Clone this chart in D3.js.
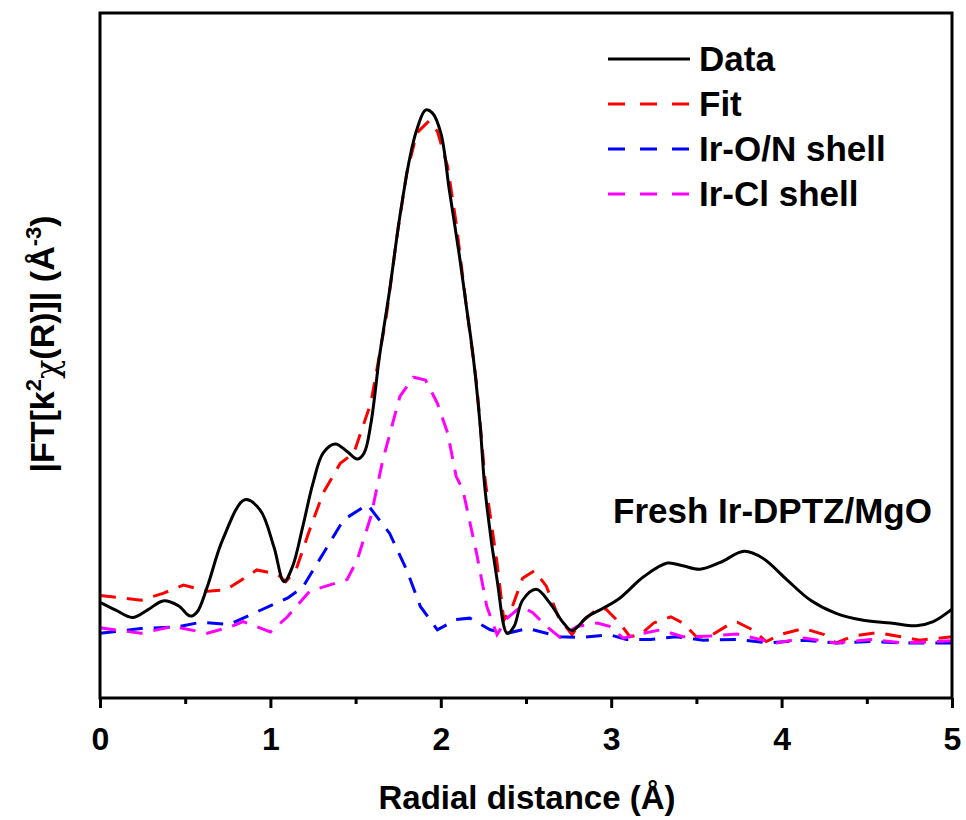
<!DOCTYPE html>
<html>
<head>
<meta charset="utf-8">
<script src="https://cdn.jsdelivr.net/npm/d3@7"></script>
<style>
body { margin: 0; background: #fff; }
text { font-family: "Liberation Sans", Arial, sans-serif; font-weight: bold; fill: #000; }
</style>
</head>
<body>
<div id="chart-area"></div>
<script>
// EXAFS |FT| – Fresh Ir-DPTZ/MgO

const MARGIN = { LEFT: 100, RIGHT: 14, TOP: 13, BOTTOM: 122 }
const WIDTH = 966 - MARGIN.LEFT - MARGIN.RIGHT
const HEIGHT = 820 - MARGIN.TOP - MARGIN.BOTTOM

// DATA (R in Å, magnitude in arbitrary units)
const dataR = [0, 0.09, 0.19, 0.28, 0.37, 0.46, 0.53, 0.57, 0.63, 0.72, 0.85, 0.94, 1.02, 1.08, 1.13, 1.19, 1.25, 1.31, 1.38, 1.45, 1.51, 1.55, 1.59, 1.64, 1.70, 1.76, 1.82, 1.86, 1.91, 1.95, 2.00, 2.05, 2.11, 2.15, 2.19, 2.23, 2.26, 2.33, 2.39, 2.43, 2.48, 2.56, 2.64, 2.72, 2.77, 2.86, 2.95, 3.05, 3.19, 3.33, 3.42, 3.52, 3.64, 3.78, 3.89, 4.03, 4.17, 4.32, 4.48, 4.64, 4.79, 4.89, 5.00]
const dataMag = [1.39, 1.28, 1.17, 1.28, 1.41, 1.34, 1.19, 1.25, 1.62, 2.30, 2.88, 2.73, 2.20, 1.69, 1.91, 2.49, 3.12, 3.56, 3.69, 3.58, 3.47, 3.56, 3.99, 4.96, 5.93, 7.00, 7.87, 8.26, 8.54, 8.50, 8.21, 7.38, 6.41, 5.69, 4.96, 3.99, 3.02, 1.72, 0.94, 1.04, 1.42, 1.58, 1.38, 1.09, 0.98, 1.18, 1.30, 1.45, 1.76, 1.96, 1.92, 1.87, 1.97, 2.13, 2.03, 1.72, 1.42, 1.23, 1.13, 1.09, 1.05, 1.11, 1.29]

const fitR = [0, 0.24, 0.37, 0.49, 0.63, 0.74, 0.92, 1.04, 1.09, 1.15, 1.23, 1.31, 1.41, 1.49, 1.59, 1.68, 1.74, 1.80, 1.86, 1.93, 1.98, 2.04, 2.09, 2.15, 2.21, 2.26, 2.33, 2.37, 2.42, 2.48, 2.55, 2.62, 2.69, 2.77, 2.82, 2.92, 2.97, 3.05, 3.11, 3.17, 3.25, 3.35, 3.42, 3.50, 3.58, 3.70, 3.74, 3.83, 3.91, 3.99, 4.13, 4.25, 4.32, 4.42, 4.56, 4.70, 4.81, 5.00]
const fitMag = [1.49, 1.42, 1.52, 1.64, 1.55, 1.57, 1.86, 1.80, 1.69, 1.86, 2.44, 2.98, 3.41, 3.56, 4.29, 5.54, 6.66, 7.63, 8.21, 8.38, 8.23, 7.72, 6.90, 5.69, 4.57, 3.17, 1.96, 1.13, 1.33, 1.74, 1.85, 1.62, 1.18, 0.92, 1.09, 1.30, 1.29, 1.09, 0.89, 0.92, 1.09, 1.18, 1.09, 0.89, 0.90, 1.08, 1.10, 0.99, 0.82, 0.92, 1.01, 0.92, 0.80, 0.90, 0.95, 0.89, 0.84, 0.89]

const onR = [0, 0.24, 0.45, 0.59, 0.76, 0.92, 1.10, 1.19, 1.31, 1.43, 1.57, 1.70, 1.80, 1.88, 1.98, 2.09, 2.17, 2.29, 2.39, 2.51, 2.70, 2.82, 2.99, 3.09, 3.23, 3.38, 3.54, 3.74, 3.93, 4.13, 4.32, 4.52, 4.71, 5.00]
const onMag = [0.94, 1.01, 1.03, 1.10, 1.07, 1.25, 1.45, 1.61, 2.10, 2.59, 2.81, 2.39, 1.86, 1.33, 0.99, 1.14, 1.16, 0.99, 0.94, 1.01, 0.89, 0.88, 0.92, 0.85, 0.85, 0.89, 0.84, 0.85, 0.80, 0.84, 0.80, 0.82, 0.80, 0.80]

const clR = [0, 0.24, 0.43, 0.63, 0.76, 0.84, 1.00, 1.10, 1.23, 1.45, 1.51, 1.59, 1.66, 1.76, 1.84, 1.91, 1.98, 2.04, 2.09, 2.13, 2.21, 2.27, 2.33, 2.39, 2.47, 2.54, 2.62, 2.70, 2.80, 2.92, 2.99, 3.07, 3.17, 3.29, 3.42, 3.58, 3.74, 3.87, 3.97, 4.13, 4.32, 4.52, 4.71, 5.00]
const clMag = [1.02, 0.94, 1.04, 0.94, 1.03, 1.11, 0.96, 1.18, 1.55, 1.72, 2.01, 2.64, 3.46, 4.38, 4.66, 4.62, 4.28, 3.85, 3.22, 3.02, 2.10, 1.33, 0.92, 1.16, 1.33, 1.24, 1.04, 0.88, 1.04, 1.09, 1.04, 0.87, 0.93, 0.99, 0.89, 0.90, 0.93, 0.85, 0.80, 0.87, 0.80, 0.85, 0.80, 0.83]

const xTicks = [0, 1, 2, 3, 4, 5]
const xMinorTicks = [0.5, 1.5, 2.5, 3.5, 4.5]
const legendNames = ["Data", "Fit", "Ir-O/N shell", "Ir-Cl shell"]
const legendColors = ["#000000", "#ff0000", "#0000ff", "#ff00ff"]

const svg = d3.select("#chart-area").append("svg")
  .attr("width", WIDTH + MARGIN.LEFT + MARGIN.RIGHT)
  .attr("height", HEIGHT + MARGIN.TOP + MARGIN.BOTTOM)

const g = svg.append("g")
  .attr("transform", `translate(${MARGIN.LEFT}, ${MARGIN.TOP})`)

// SCALES
const x = d3.scaleLinear()
  .domain([0, 5])
  .range([0, WIDTH])
const y = d3.scaleLinear()
  .domain([0, 9.95])
  .range([HEIGHT, 0])

g.append("clipPath").attr("id", "clip")
  .append("rect").attr("width", WIDTH).attr("height", HEIGHT)

// LINES
const series = [
  { r: fitR, m: fitMag, color: legendColors[1], dash: "16,11", curve: d3.curveLinear },
  { r: onR, m: onMag, color: legendColors[2], dash: "16,11", curve: d3.curveLinear },
  { r: clR, m: clMag, color: legendColors[3], dash: "16,11", curve: d3.curveLinear },
  { r: dataR, m: dataMag, color: legendColors[0], dash: null, curve: d3.curveCatmullRom }
]

series.forEach(s => {
  const pts = s.r.map((r, i) => [r, s.m[i]])
  const line = d3.line()
    .x(d => x(d[0]))
    .y(d => y(d[1]))
    .curve(s.curve)
  g.append("path")
    .datum(pts)
    .attr("clip-path", "url(#clip)")
    .attr("fill", "none")
    .attr("stroke", s.color)
    .attr("stroke-width", 3)
    .attr("stroke-dasharray", s.dash)
    .attr("d", line)
})

// AXES
const xAxisCall = d3.axisBottom(x)
  .tickValues(xTicks)
  .tickSize(10)
  .tickPadding(19)
  .tickFormat(d3.format("d"))
const xAxis = g.append("g")
  .attr("transform", `translate(0, ${HEIGHT})`)
  .call(xAxisCall)
xAxis.select(".domain").remove()
xAxis.selectAll("line").attr("stroke-width", 3)
xAxis.selectAll("text")
  .attr("font-size", "32px")
  .style("font-family", "'Liberation Sans', Arial, sans-serif")
  .style("font-weight", "bold")

const xMinor = g.append("g")
  .attr("transform", `translate(0, ${HEIGHT})`)
  .call(d3.axisBottom(x).tickValues(xMinorTicks).tickSize(6).tickFormat(""))
xMinor.select(".domain").remove()
xMinor.selectAll("line").attr("stroke-width", 3)

// FRAME
g.append("rect")
  .attr("width", WIDTH)
  .attr("height", HEIGHT)
  .attr("fill", "none")
  .attr("stroke", "#000")
  .attr("stroke-width", 3)

// LABELS
svg.append("text")
  .attr("x", 527)
  .attr("y", 809)
  .attr("font-size", "33px")
  .attr("text-anchor", "middle")
  .text("Radial distance (Å)")

const yLabel = svg.append("text")
  .attr("transform", "translate(54, 344) rotate(-90)")
  .attr("font-size", "34px")
  .attr("text-anchor", "middle")
yLabel.append("tspan").text("|FT[k")
yLabel.append("tspan").attr("font-size", "22px").attr("dy", -13).text("2")
yLabel.append("tspan").attr("font-size", "32px").attr("dy", 17)
  .style("font-weight", "normal").style("font-family", "'DejaVu Serif', serif").text("χ")
yLabel.append("tspan").attr("dy", -4).text("(R)]| (Å")
yLabel.append("tspan").attr("font-size", "22px").attr("dy", -13).text("-3")
yLabel.append("tspan").attr("dy", 13).text(")")

svg.append("text")
  .attr("x", 613)
  .attr("y", 523)
  .attr("font-size", "35px")
  .text("Fresh Ir-DPTZ/MgO")

// LEGEND
const legend = svg.append("g")
  .attr("transform", "translate(608, 59)")
legendNames.forEach((name, i) => {
  const row = legend.append("g")
    .attr("transform", `translate(0, ${i * 45})`)
  row.append("line")
    .attr("x1", 0).attr("x2", 82)
    .attr("stroke", legendColors[i])
    .attr("stroke-width", 3)
    .attr("stroke-dasharray", i === 0 ? null : "17,15")
  row.append("text")
    .attr("x", 91)
    .attr("y", 12)
    .attr("font-size", "35px")
    .text(name)
})
</script>
</body>
</html>
